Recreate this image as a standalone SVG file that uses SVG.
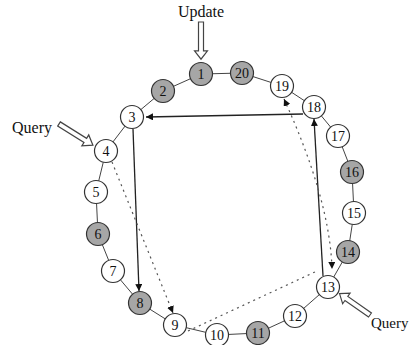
<svg xmlns="http://www.w3.org/2000/svg" width="410" height="345" viewBox="0 0 410 345">
  <style>
    .ring { stroke: #444; stroke-width: 1; fill: none; }
    .node circle { stroke: #333; stroke-width: 1.2; }
    .node text { font-family: "Liberation Serif", "Times New Roman", serif; font-size: 14px; fill: #111; text-anchor: middle; dominant-baseline: central; }
    .white circle { fill: #ffffff; }
    .gray circle { fill: #a6a6a6; }
    .solid { stroke: #222; stroke-width: 1.3; fill: none; }
    .dashed { stroke: #555; stroke-width: 1.2; fill: none; stroke-dasharray: 2 4; }
    .hollow { fill: #ffffff; stroke: #444; stroke-width: 1.2; }
    .label { font-family: "Liberation Serif", "Times New Roman", serif; font-size: 16px; fill: #111; }
  </style>
  <defs>
    <marker id="head" viewBox="0 0 10 10" refX="10" refY="5" markerWidth="7" markerHeight="7" markerUnits="userSpaceOnUse" orient="auto-start-reverse">
      <path d="M0,0 L10,5 L0,10 z" fill="#111"/>
    </marker>
    <polygon id="hollow-arrow" points="0,-2.5 31,-2.5 31,-6.5 40,0 31,6.5 31,2.5 0,2.5"/>
  </defs>

  <rect width="410" height="345" fill="#ffffff"/>

  <!-- ring links between neighbouring nodes -->
  <g id="ring">
    <polygon class="ring" points="201,74 163,91 132,117 106,151 96,192 98,234 113,271 140,303 175,325 217,335 258,333 295,316 328,287 348,252 354,213 352,172 338,136 314,107 282,86 242,73"/>
  </g>

  <!-- lookup connectors -->
  <g id="connectors">
    <path class="solid" d="M303,114 L146,117" marker-end="url(#head)"/>
    <path class="solid" d="M133,129 L139,291" marker-end="url(#head)"/>
    <path class="solid" d="M323,276 L314,119" marker-end="url(#head)"/>
    <path class="dashed" d="M112,162 L173,313" marker-end="url(#head)"/>
    <path class="dashed" d="M188,331 L317,271"/>
    <path class="dashed" d="M284,99 Q330,200 332,269" marker-start="url(#head)" marker-end="url(#head)"/>
  </g>

  <!-- request arrows and labels -->
  <g id="update">
    <text class="label" x="201" y="17" text-anchor="middle">Update</text>
    <use href="#hollow-arrow" class="hollow" transform="translate(201,22) rotate(90) scale(0.93,1)"/>
  </g>
  <g id="query-left">
    <text class="label" x="12" y="133">Query</text>
    <use href="#hollow-arrow" class="hollow" transform="translate(59,124) rotate(32)"/>
  </g>
  <g id="query-right">
    <text class="label" x="371" y="328" style="font-size:15px">Query</text>
    <use href="#hollow-arrow" class="hollow" transform="translate(370,315) rotate(215) scale(0.93,1)"/>
  </g>

  <!-- nodes -->
  <g id="n1" class="node gray"><circle cx="201" cy="74" r="11.5"/><text x="201" y="74">1</text></g>
  <g id="n2" class="node gray"><circle cx="163" cy="91" r="11.5"/><text x="163" y="91">2</text></g>
  <g id="n3" class="node white"><circle cx="132" cy="117" r="11.5"/><text x="132" y="117">3</text></g>
  <g id="n4" class="node white"><circle cx="106" cy="151" r="11.5"/><text x="106" y="151">4</text></g>
  <g id="n5" class="node white"><circle cx="96" cy="192" r="11.5"/><text x="96" y="192">5</text></g>
  <g id="n6" class="node gray"><circle cx="98" cy="234" r="11.5"/><text x="98" y="234">6</text></g>
  <g id="n7" class="node white"><circle cx="113" cy="271" r="11.5"/><text x="113" y="271">7</text></g>
  <g id="n8" class="node gray"><circle cx="140" cy="303" r="11.5"/><text x="140" y="303">8</text></g>
  <g id="n9" class="node white"><circle cx="175" cy="325" r="11.5"/><text x="175" y="325">9</text></g>
  <g id="n10" class="node white"><circle cx="217" cy="335" r="11.5"/><text x="217" y="335">10</text></g>
  <g id="n11" class="node gray"><circle cx="258" cy="333" r="11.5"/><text x="258" y="333">11</text></g>
  <g id="n12" class="node white"><circle cx="295" cy="316" r="11.5"/><text x="295" y="316">12</text></g>
  <g id="n13" class="node white"><circle cx="328" cy="287" r="11.5"/><text x="328" y="287">13</text></g>
  <g id="n14" class="node gray"><circle cx="348" cy="252" r="11.5"/><text x="348" y="252">14</text></g>
  <g id="n15" class="node white"><circle cx="354" cy="213" r="11.5"/><text x="354" y="213">15</text></g>
  <g id="n16" class="node gray"><circle cx="352" cy="172" r="11.5"/><text x="352" y="172">16</text></g>
  <g id="n17" class="node white"><circle cx="338" cy="136" r="11.5"/><text x="338" y="136">17</text></g>
  <g id="n18" class="node white"><circle cx="314" cy="107" r="11.5"/><text x="314" y="107">18</text></g>
  <g id="n19" class="node white"><circle cx="282" cy="86" r="11.5"/><text x="282" y="86">19</text></g>
  <g id="n20" class="node gray"><circle cx="242" cy="73" r="11.5"/><text x="242" y="73">20</text></g>
</svg>
